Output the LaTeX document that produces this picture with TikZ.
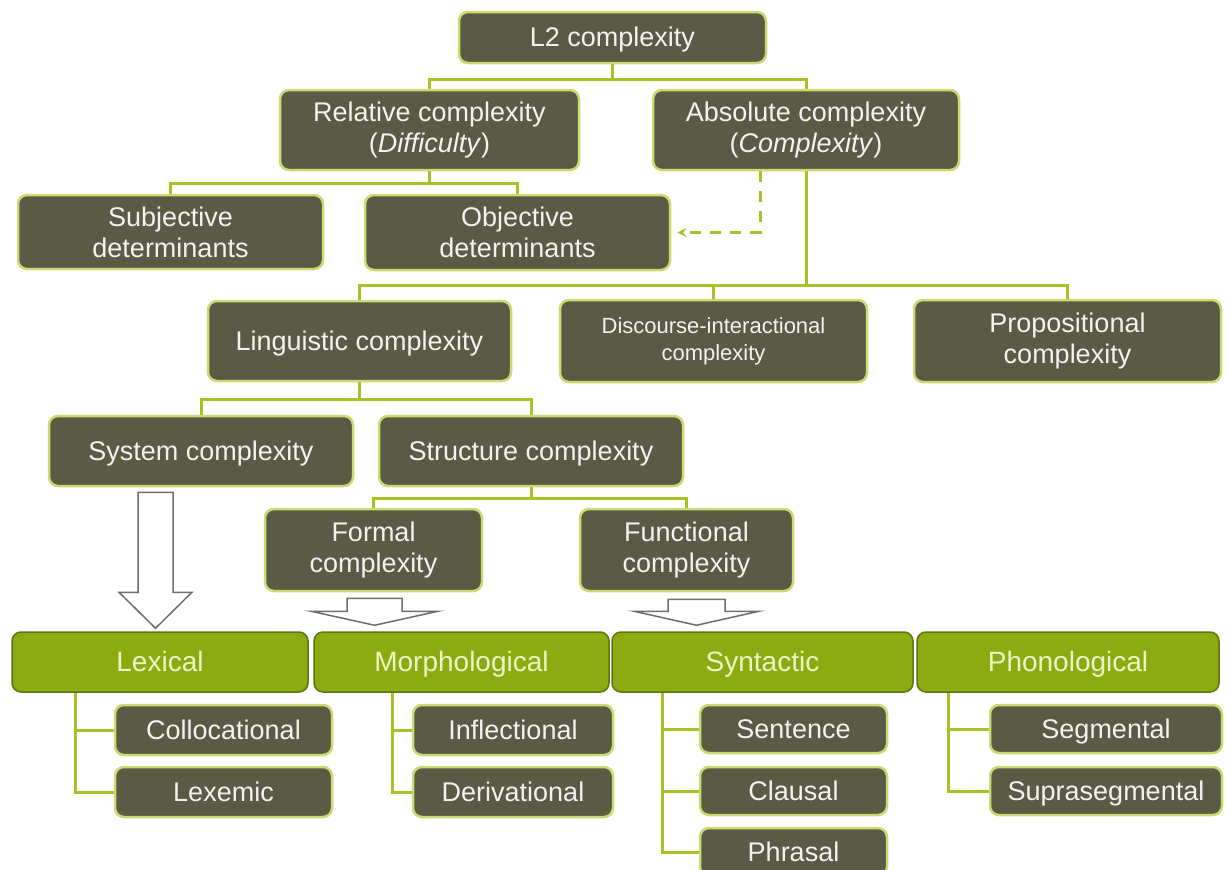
\documentclass[tikz,border=0pt]{standalone}
\usepackage{fontspec}
\setmainfont{Liberation Sans}
\definecolor{boxgray}{HTML}{5B5A45}
\definecolor{glow}{HTML}{CCDA72}
\definecolor{leaf}{HTML}{8CAB12}
\definecolor{leafdark}{HTML}{5E7414}
\definecolor{leaftext}{HTML}{EEF4C2}
\definecolor{wirecol}{HTML}{A8C124}
\definecolor{arrowgray}{HTML}{6E6E6E}
\tikzset{
  wh/.style 2 args={minimum width=#1,minimum height=#2},
  darkbox/.style={draw=glow,line width=2.5pt,fill=boxgray,rounded corners=9pt,
    text=white!92!boxgray,align=center,inner sep=0pt,font=\fontsize{27}{31}\selectfont},
  greenbox/.style={draw=leafdark,line width=1.5pt,fill=leaf,rounded corners=9pt,
    text=leaftext,inner sep=0pt,font=\fontsize{28}{31}\selectfont},
  oneline/.style={text height=19pt,text depth=1pt},
  wire/.style={draw=wirecol,line width=3pt},
  hollow/.style={draw=arrowgray,line width=1.5pt,fill=white,line join=miter},
}
% block arrow: top centre, shaft half width, head half width, shaft length, head length
\newcommand{\blockarrow}[5]{\draw[hollow] (#1) ++(-#2,0) -- ++(0,#4) -- ++(#2-#3,0)
  -- ++(#3,#5) -- ++(#3,-#5) -- ++(#2-#3,0) -- ++(0,-#4) -- cycle;}
\begin{document}
\begin{tikzpicture}[x=1pt,y=-1pt,>=stealth]
\useasboundingbox[fill=white] (0,0) rectangle (1227,870);
% top levels
\node[darkbox,oneline,wh={307pt}{51pt}] (l2) at (612.5,37.5) {L2 complexity};
\node[darkbox,wh={299pt}{80pt}] (rel) at (429.5,130) {Relative complexity\\(\textit{Difficulty})};
\node[darkbox,wh={306pt}{80pt}] (abs) at (806,130) {Absolute complexity\\(\textit{Complexity})};
\node[darkbox,wh={305pt}{74pt}] (subj) at (170.5,232) {Subjective\\determinants};
\node[darkbox,wh={305pt}{75pt}] (obj) at (517.5,232.5) {Objective\\determinants};
\node[darkbox,oneline,wh={303pt}{80pt}] (ling) at (359.5,341) {Linguistic complexity};
\node[darkbox,wh={307pt}{82pt},font=\fontsize{22}{27}\selectfont] (disc) at (713.5,341) {Discourse-interactional\\complexity};
\node[darkbox,wh={307pt}{82pt}] (prop) at (1067.5,341) {Propositional\\complexity};
\node[darkbox,oneline,wh={304pt}{70pt}] (sys) at (201,451) {System complexity};
\node[darkbox,oneline,wh={304pt}{70pt}] (struc) at (531,451) {Structure complexity};
\node[darkbox,wh={217pt}{82pt}] (formal) at (373.5,550) {Formal\\complexity};
\node[darkbox,wh={213pt}{82pt}] (func) at (686.5,550) {Functional\\complexity};
% domains
\node[greenbox,oneline,wh={296pt}{60pt}] (lex) at (160,662) {Lexical};
\node[greenbox,oneline,wh={295pt}{60pt}] (morph) at (461.5,662) {Morphological};
\node[greenbox,oneline,wh={301pt}{60pt}] (synt) at (762.5,662) {Syntactic};
\node[greenbox,oneline,wh={302pt}{60pt}] (phon) at (1068,662) {Phonological};
\node[darkbox,oneline,wh={217pt}{50pt}] (coll) at (223.5,730) {Collocational};
\node[darkbox,oneline,wh={217pt}{50pt}] (lexe) at (223.5,792) {Lexemic};
\node[darkbox,oneline,wh={200pt}{50pt}] (infl) at (513,730) {Inflectional};
\node[darkbox,oneline,wh={200pt}{50pt}] (deriv) at (513,792) {Derivational};
\node[darkbox,oneline,wh={187pt}{48pt}] (sent) at (793.5,729) {Sentence};
\node[darkbox,oneline,wh={187pt}{48pt}] (claus) at (793.5,791) {Clausal};
\node[darkbox,oneline,wh={187pt}{48pt}] (phras) at (793.5,852) {Phrasal};
\node[darkbox,oneline,wh={232pt}{48pt}] (seg) at (1106,729) {Segmental};
\node[darkbox,oneline,wh={232pt}{48pt}] (supra) at (1106,791) {Suprasegmental};
% tree lines
\draw[wire] (l2.south) -- ++(0,15) -| (rel.north);
\draw[wire] (l2.south) -- ++(0,15) -| (abs.north);
\draw[wire] (rel.south) -- ++(0,12) -| (subj.north);
\draw[wire] (rel.south) -- ++(0,12) -| (obj.north);
\draw[wire] (abs.south) -- ++(0,114) -| (ling.north);
\draw[wire] (abs.south) -- ++(0,114) -| (disc.north);
\draw[wire] (abs.south) -- ++(0,114) -| (prop.north);
\draw[wire] (ling.south) -- ++(0,17) -| (sys.north);
\draw[wire] (ling.south) -- ++(0,17) -| (struc.north);
\draw[wire] (struc.south) -- ++(0,11) -| (formal.north);
\draw[wire] (struc.south) -- ++(0,11) -| (func.north);
\draw[wire,dashed,dash pattern=on 11pt off 9pt,line width=3pt,->,shorten >=6pt]
  ([xshift=-46pt]abs.south) |- (obj.east);
% leaves
\draw[wire] ([xshift=-85pt]lex.south) |- (coll.west);
\draw[wire] ([xshift=-85pt]lex.south) |- (lexe.west);
\draw[wire] ([xshift=-69.5pt]morph.south) |- (infl.west);
\draw[wire] ([xshift=-69.5pt]morph.south) |- (deriv.west);
\draw[wire] ([xshift=-100.5pt]synt.south) |- (sent.west);
\draw[wire] ([xshift=-100.5pt]synt.south) |- (claus.west);
\draw[wire] ([xshift=-100.5pt]synt.south) |- (phras.west);
\draw[wire] ([xshift=-120pt]phon.south) |- (seg.west);
\draw[wire] ([xshift=-120pt]phon.south) |- (supra.west);
% hollow arrows
\path (sys.south -| lex.north) ++(-4.5,5) coordinate (sysarr);
\path (formal.south) ++(1,6) coordinate (formarr);
\path (func.south) ++(10,7) coordinate (funcarr);
\blockarrow{sysarr}{17.5}{36.5}{100}{36}
\blockarrow{formarr}{27.5}{63.5}{13}{14}
\blockarrow{funcarr}{28.5}{62.5}{12}{14}
\end{tikzpicture}
\end{document}
